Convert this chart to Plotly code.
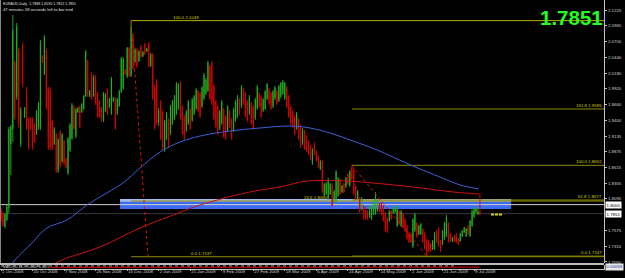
import plotly.graph_objects as go

# ---------------- data (EURAUD, Daily) ----------------
opens = [1.7920,1.7855,1.7640,1.7750,1.7950,1.9000,1.9250,2.0350,1.9780,2.0550,
         1.9000,2.0650,1.9450,1.9900,1.9420,1.9430,1.9420,1.9330,1.9180,1.9270,
         1.9280,2.0470,2.0170,2.0560,1.9920,1.9900,1.9380,1.9010,1.9160,1.8560,
         1.9210,1.8720,1.9050,1.8760,1.8520,1.8900,1.9100,1.9620,1.9130,1.9530,
         1.9630,1.9530,1.9590,1.9800,2.0370,1.9790,2.0170,1.9800,2.0120,1.9840,
         1.9710,1.9600,1.9400,1.9560,1.9910,1.9620,1.9510,1.9710,1.9760,1.9510,
         1.9640,1.9870,1.9930,2.0240,2.0120,2.0600,2.0140,2.0800,2.0370,2.0570,
         2.0380,2.0620,2.0460,2.0660,2.0535,2.0670,2.0300,2.0490,1.9950,2.0050,
         1.9360,1.9700,1.9540,1.8900,1.9100,1.9410,1.9180,1.9350,1.9430,1.9520,
         1.9600,2.0010,1.9620,1.9460,1.9230,1.9350,1.9580,1.9400,1.9510,1.9590,
         1.9880,1.9840,1.9630,1.9760,1.9840,1.9890,2.0290,2.0350,1.9970,1.9710,
         1.9620,1.9260,1.9350,1.9580,1.9460,1.9230,1.9540,1.9410,1.9230,1.9400,
         1.9460,1.9740,1.9630,1.9910,1.9840,1.9710,1.9510,1.9680,1.9620,1.9430,
         1.9600,1.9840,1.9790,1.9560,1.9590,1.9760,1.9910,1.9840,1.9630,1.9760,
         1.9880,1.9720,1.9790,1.9840,1.9760,1.9940,1.9790,1.9620,1.9540,1.9460,
         1.9260,1.9410,1.9290,1.9010,1.9210,1.9130,1.9050,1.8970,1.8690,1.9010,
         1.8880,1.8800,1.8590,1.8710,1.8150,1.8180,1.8100,1.8180,1.8330,1.8050,
         1.8060,1.8150,1.8420,1.8210,1.8340,1.8300,1.8500,1.8320,1.8600,1.8580,
         1.8300,1.8100,1.8100,1.7930,1.7970,1.7940,1.7890,1.7800,1.7770,1.7850,
         1.7860,1.7900,1.8010,1.8020,1.7970,1.7850,1.7770,1.7730,1.7890,1.7860,
         1.7870,1.7650,1.7890,1.7650,1.7840,1.7760,1.7640,1.7530,1.7510,1.7310,
         1.7570,1.7690,1.7510,1.7510,1.7590,1.7520,1.7420,1.7390,1.7350,1.7260,
         1.7270,1.7560,1.7600,1.7390,1.7350,1.7440,1.7490,1.7690,1.7510,1.7390,
         1.7480,1.7510,1.7435,1.7395,1.7475,1.7540,1.7475,1.7645,1.7480,1.7650,
         1.7800,1.7870,1.7840,1.7888]
highs = [1.7944,1.7878,1.7862,1.7994,1.9287,1.9320,2.1142,2.0397,2.1010,2.0596,
         1.9618,2.0695,1.9618,1.9949,1.9452,1.9452,1.9452,1.9353,1.9568,1.9701,
         2.0728,2.0480,2.0811,2.0596,1.9949,1.9949,1.9403,1.9287,1.9187,1.9104,
         1.9237,1.9187,1.9071,1.8773,1.9121,1.9353,1.9684,1.9651,1.9601,1.9618,
         1.9651,1.9684,1.9817,2.0563,2.0397,1.9900,2.0198,2.0148,2.0148,1.9867,
         1.9734,1.9618,1.9867,1.9850,1.9933,1.9767,2.0115,1.9784,1.9784,1.9767,
         1.9900,2.0446,2.0446,2.0248,2.0612,2.0612,2.1049,2.0828,2.0596,2.0596,
         2.0563,2.0645,2.0546,2.0679,2.0596,2.0695,2.0513,2.0513,1.9983,2.0082,
         1.9600,1.9734,1.9568,1.9403,1.9535,1.9436,1.9651,1.9734,1.9817,2.0032,
         2.0016,2.0049,1.9651,1.9486,1.9568,1.9734,1.9601,1.9767,1.9817,1.9933,
         1.9900,1.9867,1.9966,2.0181,2.0099,2.0380,2.0314,2.0380,1.9999,1.9734,
         1.9651,1.9568,1.9734,1.9601,1.9486,1.9651,1.9568,1.9436,1.9601,1.9734,
         1.9817,1.9767,1.9983,1.9933,1.9867,1.9734,1.9817,1.9701,1.9651,1.9767,
         1.9983,1.9867,1.9817,1.9767,1.9900,2.0016,1.9933,1.9867,1.9900,1.9966,
         1.9900,1.9983,2.0032,2.0065,2.0032,1.9966,1.9817,1.9651,1.9568,1.9486,
         1.9535,1.9436,1.9320,1.9270,1.9237,1.9154,1.9071,1.8988,1.8939,1.9038,
         1.8906,1.8823,1.8740,1.8740,1.8359,1.8375,1.8442,1.8359,1.8359,1.8243,
         1.8574,1.8458,1.8442,1.8326,1.8359,1.8458,1.8524,1.8574,1.8652,1.8607,
         1.8326,1.8243,1.8127,1.8127,1.7994,1.7961,1.7911,1.7994,1.7994,1.8077,
         1.8210,1.8077,1.8027,1.8044,1.7994,1.7878,1.7795,1.7911,1.7911,1.7961,
         1.7961,1.7994,1.7911,1.7911,1.7862,1.7779,1.7663,1.7547,1.7530,1.7779,
         1.7862,1.7713,1.7663,1.7696,1.7613,1.7547,1.7447,1.7414,1.7365,1.7414,
         1.7547,1.7580,1.7630,1.7414,1.7580,1.7713,1.7829,1.7713,1.7530,1.7464,
         1.7497,1.7530,1.7447,1.7530,1.7580,1.7630,1.7613,1.7663,1.7746,1.7911,
         1.7961,1.7944,1.7961,1.8190]
lows = [1.7713,1.7630,1.7613,1.7729,1.7862,1.8491,1.9038,1.9403,1.9734,1.9270,
        1.8955,1.9949,1.9436,1.9237,1.8906,1.9237,1.8906,1.9021,1.9154,1.9237,
        1.9237,2.0347,2.0148,1.9568,1.8906,1.8906,1.8906,1.8988,1.8524,1.8524,
        1.8607,1.8690,1.8657,1.8607,1.8491,1.8872,1.9071,1.9237,1.9104,1.9519,
        1.9270,1.9519,1.9568,1.9784,1.9784,1.9784,1.9734,1.9784,1.9651,1.9436,
        1.9436,1.9370,1.9370,1.9535,1.9486,1.9601,1.9486,1.9701,1.9237,1.9486,
        1.9618,1.9850,1.9900,2.0148,2.0099,2.0115,2.0115,2.0231,2.0347,2.0264,
        2.0364,2.0430,2.0446,2.0480,2.0529,2.0281,2.0281,1.9734,1.9237,1.9320,
        1.9300,1.9071,1.8906,1.8872,1.9071,1.8939,1.9154,1.9320,1.9403,1.9486,
        1.9568,1.9403,1.9154,1.9071,1.9204,1.9320,1.9237,1.9370,1.9486,1.9568,
        1.9535,1.9436,1.9601,1.9734,1.9817,1.9867,1.9734,1.9651,1.9403,1.9270,
        1.9154,1.9237,1.9320,1.9104,1.9071,1.9204,1.9270,1.9071,1.9204,1.9370,
        1.9436,1.9486,1.9601,1.9651,1.9436,1.9370,1.9486,1.9320,1.9237,1.9403,
        1.9568,1.9601,1.9436,1.9535,1.9568,1.9734,1.9651,1.9568,1.9601,1.9734,
        1.9651,1.9701,1.9767,1.9817,1.9734,1.9601,1.9436,1.9320,1.9270,1.9154,
        1.9237,1.9071,1.8939,1.8988,1.8906,1.8872,1.8823,1.8740,1.8657,1.8823,
        1.8707,1.8607,1.8574,1.8193,1.8127,1.8160,1.8077,1.8160,1.7961,1.8027,
        1.8027,1.8127,1.8160,1.8193,1.8193,1.8276,1.8326,1.8293,1.8409,1.8160,
        1.8077,1.8077,1.7862,1.7911,1.7746,1.7746,1.7746,1.7779,1.7746,1.7829,
        1.7829,1.7878,1.7878,1.7829,1.7713,1.7547,1.7530,1.7713,1.7746,1.7845,
        1.7862,1.7630,1.7663,1.7630,1.7613,1.7547,1.7414,1.7365,1.7365,1.7282,
        1.7547,1.7447,1.7497,1.7497,1.7365,1.7249,1.7147,1.7215,1.7215,1.7249,
        1.7249,1.7365,1.7298,1.7215,1.7331,1.7414,1.7464,1.7365,1.7381,1.7381,
        1.7381,1.7365,1.7331,1.7381,1.7464,1.7530,1.7464,1.7497,1.7464,1.7630,
        1.7779,1.7862,1.7829,1.7822]
closes = [1.7738,1.7655,1.7840,1.7970,1.9250,1.9290,2.0900,1.9450,2.0950,1.9320,
          1.9580,2.0000,1.9600,1.9270,1.8940,1.9260,1.8950,1.9040,1.9540,1.9680,
          2.0690,2.0360,2.0780,1.9600,1.8940,1.8960,1.8930,1.9260,1.8550,1.9080,
          1.8640,1.9160,1.8680,1.8620,1.9090,1.9320,1.9650,1.9260,1.9580,1.9600,
          1.9290,1.9670,1.9800,2.0530,1.9810,1.9890,1.9760,2.0120,1.9680,1.9460,
          1.9460,1.9390,1.9840,1.9830,1.9510,1.9750,2.0090,1.9775,1.9260,1.9750,
          1.9880,2.0420,2.0410,2.0160,2.0590,2.0140,2.0950,2.0260,2.0570,2.0290,
          2.0540,2.0450,2.0530,2.0500,2.0590,2.0300,2.0490,1.9760,1.9270,1.9350,
          1.9560,1.9100,1.8940,1.9370,1.9500,1.8970,1.9620,1.9700,1.9790,2.0000,
          1.9990,1.9430,1.9180,1.9100,1.9540,1.9700,1.9260,1.9740,1.9790,1.9900,
          1.9560,1.9460,1.9940,2.0150,2.0070,2.0350,1.9760,1.9680,1.9430,1.9300,
          1.9180,1.9540,1.9700,1.9130,1.9100,1.9620,1.9300,1.9100,1.9570,1.9700,
          1.9790,1.9510,1.9950,1.9680,1.9460,1.9400,1.9790,1.9350,1.9270,1.9740,
          1.9950,1.9630,1.9460,1.9740,1.9870,1.9990,1.9680,1.9590,1.9870,1.9940,
          1.9680,1.9960,2.0010,2.0040,2.0010,1.9630,1.9460,1.9350,1.9300,1.9180,
          1.9510,1.9100,1.8970,1.9240,1.8940,1.8900,1.8850,1.8770,1.8910,1.8850,
          1.8730,1.8630,1.8720,1.8220,1.8340,1.8350,1.8410,1.8340,1.7990,1.8220,
          1.8540,1.8430,1.8180,1.8310,1.8210,1.8440,1.8340,1.8550,1.8430,1.8190,
          1.8100,1.8220,1.7890,1.8100,1.7770,1.7770,1.7760,1.7970,1.7970,1.8050,
          1.8180,1.8060,1.7890,1.7850,1.7740,1.7570,1.7550,1.7890,1.7760,1.7950,
          1.7950,1.7970,1.7680,1.7890,1.7640,1.7570,1.7440,1.7380,1.7380,1.7750,
          1.7840,1.7470,1.7650,1.7680,1.7390,1.7270,1.7180,1.7230,1.7230,1.7400,
          1.7520,1.7380,1.7320,1.7230,1.7560,1.7690,1.7800,1.7390,1.7400,1.7455,
          1.7390,1.7380,1.7345,1.7515,1.7565,1.7620,1.7600,1.7510,1.7730,1.7890,
          1.7940,1.7935,1.7888,1.7851]
bars = list(range(len(opens)))

date_tick_bars = [0, 16, 32, 48, 64, 80, 96, 112, 128, 144, 160, 176, 192, 208, 224, 240]
date_tick_labels = ["1 Oct 2008", "20 Oct 2008", "7 Nov 2008", "26 Nov 2008", "15 Dec 2008",
                    "2 Jan 2009", "21 Jan 2009", "9 Feb 2009", "27 Feb 2009", "18 Mar 2009",
                    "6 Apr 2009", "24 Apr 2009", "14 May 2009", "2 Jun 2009", "21 Jun 2009",
                    "9 Jul 2009"]
price_ticks = [2.1225, 2.0965, 2.0700, 2.0440, 2.0180, 1.9920, 1.9660, 1.9400, 1.9135,
               1.8875, 1.8615, 1.8355, 1.8095, 1.7575, 1.7310, 1.7050]

ma_blue_bars = [3, 7.1, 15.7, 23.3, 33.5, 43.6, 50.2, 61.9, 70.5, 80.7, 90.8, 101, 116,
                131.4, 146.6, 156.8, 167, 177.1, 190.8, 209, 222.7, 232.9, 242.5]
ma_blue = [1.690, 1.7083, 1.7365, 1.7613, 1.7746, 1.7994, 1.8127, 1.8359, 1.8607, 1.8872,
           1.9038, 1.9137, 1.9220, 1.9270, 1.9303, 1.9270, 1.9187, 1.9071, 1.8906, 1.8640,
           1.8458, 1.8326, 1.8260]
ma_red_bars = [22, 31, 50.2, 70.5, 86, 101, 126.3, 141.6, 155.3, 175.5, 188.7, 209, 229.3, 242.5]
ma_red = [1.692, 1.7083, 1.7298, 1.7613, 1.7812, 1.7994, 1.8210, 1.8293, 1.8392, 1.8392,
          1.8359, 1.8293, 1.8210, 1.8176]

fib1_anchor_bars = [66, 74.6]
fib1_anchor_prices = [2.1049, 1.7137]
fib1_levels = [100.0, 23.6, 0.0]
fib1_level_prices = [2.1049, 1.8060, 1.7137]
fib2_anchor_bars = [178, 216]
fib2_anchor_prices = [1.8652, 1.7147]
fib2_levels = [161.8, 100.0, 61.8, 0.0]
fib2_level_prices = [1.9585, 1.8652, 1.8077, 1.7147]

zone_bars = [60.4, 258.8]
zone_prices = [1.7928, 1.8094]
hline_price = 1.8000
marker_bars = [248.6, 254.2]
marker_price = 1.7838

macd_bars = [0, 60, 120, 180, 230]
macd_main = [0.45, 0.45, 0.45, 0.45, 0.45]
macd_sig_bars = [25, 90, 150, 195, 243]
macd_sig = [-0.35, -0.3, -0.35, -0.4, -0.2]

# ---------------- geometry / style ----------------
W, H = 625, 278
PLOT_W = 604
PX_PER_BAR = 1.971
X0 = -1 / PX_PER_BAR
X1 = X0 + PLOT_W / PX_PER_BAR
Y_TOP, Y_BOT = 2.1391, 1.7033
FONT = "Liberation Sans"
SMALL = 4.4
GREEN = "#22b422"
RED = "#e00000"
FIB = "#8e8e00"

fig = go.Figure()

fig.add_trace(go.Candlestick(
    x=bars, open=opens, high=highs, low=lows, close=closes,
    increasing=dict(line=dict(color=GREEN, width=0.9), fillcolor=GREEN),
    decreasing=dict(line=dict(color=RED, width=0.9), fillcolor=RED),
    whiskerwidth=0, showlegend=False, xaxis="x", yaxis="y"))

fig.add_trace(go.Scatter(x=ma_blue_bars, y=ma_blue, mode="lines", line=dict(color="#3d5ed6", width=1, shape="spline"),
                         showlegend=False, xaxis="x", yaxis="y"))
fig.add_trace(go.Scatter(x=ma_red_bars, y=ma_red, mode="lines", line=dict(color="#c81414", width=1, shape="spline"),
                         showlegend=False, xaxis="x", yaxis="y"))

for bx, py in [(fib1_anchor_bars, fib1_anchor_prices), (fib2_anchor_bars, fib2_anchor_prices)]:
    fig.add_trace(go.Scatter(x=bx, y=py, mode="lines", line=dict(color="#e01010", width=1, dash="dot"),
                             showlegend=False, xaxis="x", yaxis="y"))

fig.add_trace(go.Scatter(x=marker_bars, y=[marker_price, marker_price], mode="lines",
                         line=dict(color="#d8d800", width=2, dash="3px,1px"), showlegend=False))

fig.add_trace(go.Scatter(x=macd_bars, y=macd_main, mode="lines", line=dict(color="#b0b0b0", width=1, dash="dot"),
                         showlegend=False, xaxis="x", yaxis="y2"))
fig.add_trace(go.Scatter(x=macd_sig_bars, y=macd_sig, mode="lines", line=dict(color="#e00000", width=1),
                         showlegend=False, xaxis="x", yaxis="y2"))

shapes = []
shapes.append(dict(type="rect", xref="x", yref="y", x0=zone_bars[0], x1=zone_bars[1], y0=zone_prices[0],
                   y1=zone_prices[1], fillcolor="#3d6cf2", line=dict(width=0), layer="below"))
shapes.append(dict(type="rect", xref="x", yref="y", x0=zone_bars[0], x1=zone_bars[1], y0=zone_prices[1] - 0.0045,
                   y1=zone_prices[1], fillcolor="#a2b8ec", line=dict(width=0), layer="below"))
for lp in fib1_level_prices:
    shapes.append(dict(type="line", xref="x", yref="y", x0=fib1_anchor_bars[0], x1=X1, y0=lp, y1=lp,
                       line=dict(color="#b4b400" if lp == fib1_level_prices[0] else FIB, width=1), layer="below"))
for lp in fib2_level_prices:
    shapes.append(dict(type="line", xref="x", yref="y", x0=fib2_anchor_bars[0], x1=X1, y0=lp, y1=lp,
                       line=dict(color=FIB, width=1), layer="below"))
shapes.append(dict(type="line", xref="x", yref="y", x0=X0, x1=X1, y0=hline_price, y1=hline_price,
                   line=dict(color="#d0d0d0", width=1), layer="below"))
shapes.append(dict(type="line", xref="x", yref="y", x0=X0, x1=X1, y0=closes[-1], y1=closes[-1],
                   line=dict(color="#3a3a3a", width=1), layer="below"))
shapes.append(dict(type="line", xref="paper", yref="paper", x0=0, x1=1, y0=(H - 264) / H, y1=(H - 264) / H,
                   line=dict(color="#bcbcbc", width=2)))
shapes.append(dict(type="line", xref="paper", yref="paper", x0=0.0008, x1=0.0008, y0=(H - 263) / H, y1=1,
                   line=dict(color="#8a8a8a", width=1)))

ann = []
def txt(x, y, s, color, size=SMALL, xanchor="left", yanchor="bottom", xref="x", yref="y", **kw):
    ann.append(dict(x=x, y=y, text=s, showarrow=False, xref=xref, yref=yref, xanchor=xanchor,
                    yanchor=yanchor, font=dict(family=FONT, size=size, color=color), borderpad=0, **kw))

fl = "#d2d200"
txt(86.8, fib1_level_prices[0], f"{fib1_levels[0]:.1f} {fib1_level_prices[0]:.4f}", fl)
txt(153.2, fib1_level_prices[1], f"{fib1_levels[1]:.1f} {fib1_level_prices[1]:.4f}", fl)
txt(95.9, fib1_level_prices[2], f"{fib1_levels[2]:.1f} {fib1_level_prices[2]:.4f}", fl)
for lv, lp in zip(fib2_levels, fib2_level_prices):
    txt(X1 - 0.5, lp, f"{lv:.1f} {lp:.4f}", fl, xanchor="right")

txt(1, 1 - 17.5 / H, f"<b>{closes[-1]:.4f}</b>", "#22ff22", size=20.5, xanchor="right", yanchor="middle",
    xref="paper", yref="paper")
txt(0.003, 1 - 3.5 / H,
    f"EURAUD,Daily  {opens[-1]:.4f} {highs[-1]:.4f} {lows[-1]:.4f} {closes[-1]:.4f}",
    "#e0e0e0", size=3.6, yanchor="middle", xref="paper", yref="paper")
txt(0.003, 1 - 9.5 / H, "47 minutes 18 seconds left to bar end", "#e0e0e0", size=4.2,
    yanchor="middle", xref="paper", yref="paper")
txt(0.003, 1 - 266.8 / H, "MACD(12,26,9) 0.0009 0.0021", "#d0d0d0", size=3.4, yanchor="middle",
    xref="paper", yref="paper")
for p in [hline_price, closes[-1]]:
    ann.append(dict(x=1, y=p, xref="paper", yref="y", xanchor="left", yanchor="middle", xshift=1,
                    text=f"{p:.4f}", showarrow=False, bgcolor="#ffffff", borderpad=0.5,
                    font=dict(family=FONT, size=SMALL, color="#000000")))
ann.append(dict(x=1, y=1 - 267 / H, xref="paper", yref="paper", xanchor="left", yanchor="middle", xshift=1,
                text="0.00093", showarrow=False, bgcolor="#e8e8e8", borderpad=0.3,
                font=dict(family=FONT, size=SMALL, color="#203090")))

fig.update_layout(
    width=W, height=H, margin=dict(l=0, r=W - PLOT_W, t=0, b=0),
    paper_bgcolor="#000000", plot_bgcolor="#000000", showlegend=False,
    boxgap=0.8,
    shapes=shapes, annotations=ann,
    xaxis=dict(domain=[0, 1], range=[X0, X1], anchor="y2", showgrid=False, zeroline=False,
               rangeslider=dict(visible=False), tickmode="array", tickvals=date_tick_bars,
               ticktext=date_tick_labels, ticks="outside", ticklen=1, tickcolor="#c0c0c0",
               tickangle=0, ticklabelposition="outside right", ticklabelstandoff=-2,
               tickfont=dict(family=FONT, size=SMALL, color="#d0d0d0"),
               showline=True, linecolor="#c0c0c0", linewidth=1, automargin=False),
    yaxis=dict(domain=[(H - 263) / H, 1], range=[Y_BOT, Y_TOP], side="right", anchor="x",
               showgrid=False, zeroline=False, tickmode="array", tickvals=price_ticks,
               ticktext=[f"{v:.4f}" for v in price_ticks], ticks="outside", ticklen=2,
               tickcolor="#c0c0c0", tickfont=dict(family=FONT, size=SMALL, color="#d0d0d0"),
               showline=True, linecolor="#c0c0c0", linewidth=1, automargin=False),
    yaxis2=dict(domain=[(H - 268.5) / H, (H - 265) / H], range=[-1, 1], side="right", anchor="x",
                showgrid=False, zeroline=False, showticklabels=False, ticks="",
                showline=True, linecolor="#c0c0c0", linewidth=1, automargin=False),
)

fig.write_html("out.html")
